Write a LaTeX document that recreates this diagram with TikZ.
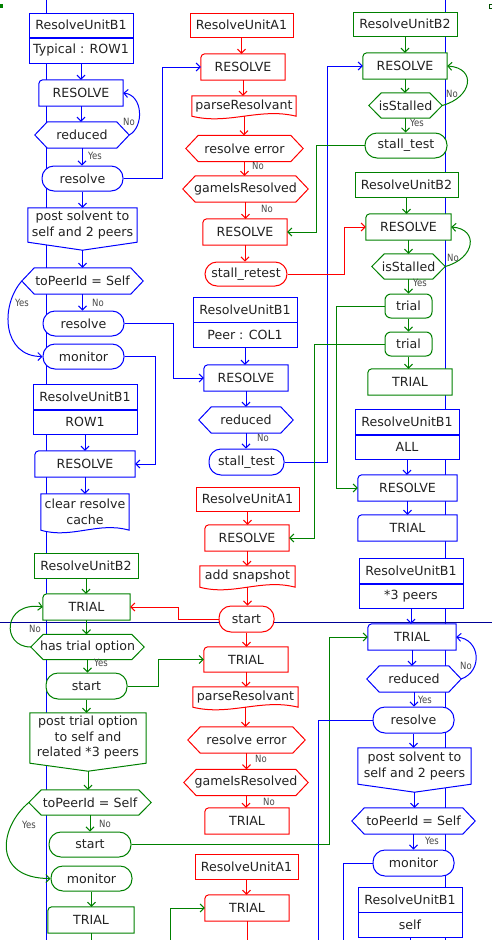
\documentclass[tikz,border=0pt]{standalone}
\usepackage{fontspec}
\setmainfont{DejaVu Sans}
\newfontfamily\lblfont[FakeStretch=0.85]{DejaVu Sans}
\usetikzlibrary{arrows.meta,calc}
\pgfdeclarelayer{bottom}
\pgfdeclarelayer{shapes}
\pgfsetlayers{bottom,shapes,main}

\definecolor{cB}{RGB}{0,0,255}
\definecolor{cG}{RGB}{0,128,0}
\definecolor{cR}{RGB}{255,0,0}
\definecolor{cNavy}{RGB}{0,0,150}
\definecolor{txt}{RGB}{34,34,34}
\definecolor{lbltxt}{RGB}{70,70,70}

\tikzset{
  base/.style={inner sep=0pt, font=\fontsize{12.6}{15.5}\selectfont, text=txt, align=center},
  sz/.style 2 args={minimum width=#1pt, minimum height=#2pt},
  hdr/.style={base, rectangle, draw=#1, fill=white, line width=1pt},
  stad/.style={base, rectangle, rounded corners=12pt, draw=#1, fill=white, line width=1pt},
  tbox/.style={base, rectangle, rounded corners=6pt, draw=#1, fill=white, line width=1pt},
  plain/.style={base},
  lbl/.style={inner sep=0pt, font=\lblfont\fontsize{10}{11}\selectfont, text=lbltxt},
  arr/.style={draw=#1, line width=1pt, -{Straight Barb[length=4pt,width=8pt]}},
  ln/.style={draw=#1, line width=1pt},
  outl/.style={draw=#1, fill=white, line width=1pt},
}

% outlines drawn behind a text node, from its anchors
\newcommand\HexOutline[2]{\filldraw[outl=#2] (#1.west) -- ($(#1.north west)+(12.5pt,0)$) -- ($(#1.north east)+(-12.5pt,0)$) -- (#1.east) -- ($(#1.south east)+(-12.5pt,0)$) -- ($(#1.south west)+(12.5pt,0)$) -- cycle;}
\newcommand\NotchOutline[2]{\filldraw[outl=#2] (#1.south west) -- ($(#1.north west)+(0,-4pt)$) to[out=90,in=180] ($(#1.north west)+(4pt,0)$) -- (#1.north east) -- (#1.south east) -- cycle;}
\newcommand\WaveOutline[2]{\filldraw[outl=#2] (#1.south west) -- (#1.north west) -- (#1.north east) -- (#1.south east) .. controls ($(#1.south west)!0.65!(#1.south east)+(0,9pt)$) and ($(#1.south west)!0.35!(#1.south east)+(0,-9pt)$) .. (#1.south west) -- cycle;}
\newcommand\PointOutline[2]{\filldraw[outl=#2] (#1.north west) -- (#1.north east) -- (#1.south east) -- ($(#1.south)+(0,-8pt)$) -- (#1.south west) -- cycle;
  \coordinate (#1-tip) at ($(#1.south)+(0,-8pt)$);}
\newcommand\DownArrow[3]{\draw[arr=#3] (#1.south) -- (#1.south |- #2.north);}

\begin{document}
\begin{tikzpicture}[x=1pt,y=-1pt]
\useasboundingbox (0,0) rectangle (492,940);

% lane lines
\coordinate (laneLtop) at (46.5,0);
\coordinate (laneLbot) at (46.5,940);
\coordinate (laneRtop) at (445,0);
\coordinate (laneRbot) at (445,940);
\coordinate (rowL) at (0,622);
\coordinate (rowR) at (492,622);
\coordinate (bot) at (0,940);
\begin{pgfonlayer}{bottom}
  \draw[ln=cB] (laneLtop) -- (laneLbot);
  \draw[ln=cB] (laneRtop) -- (laneRbot);
  \draw[ln=cNavy] (rowL) -- (rowR);
  \fill[cG] (0,4) rectangle (3,8);
  \draw[cG!60!black, line width=0.8pt] (489.5,4) rectangle (492,8);
\end{pgfonlayer}

% ---------- left column ----------
\node[hdr=cB, sz={104}{24}] (h1) at (81,25) {ResolveUnitB1};
\node[hdr=cB, sz={104}{25}] (h1s) at (81,50.5) {Typical : ROW1};
\node[plain, sz={84}{26}] (r1) at (81,93) {RESOLVE};
\node[plain, sz={94}{26}] (d1) at (82,135) {reduced};
\node[stad=cB, sz={81}{25}] (s1) at (82.5,178.5) {resolve};
\node[plain, sz={109}{34}] (p1) at (82.5,225) {post solvent to\\self and 2 peers};
\node[plain, sz={121}{26}] (q1) at (82.5,281) {toPeerId = Self};
\node[stad=cB, sz={81}{25}] (s2) at (83.5,323.5) {resolve};
\node[stad=cB, sz={81}{25}] (m1) at (83.5,356.5) {monitor};
\node[hdr=cB, sz={104}{25}] (h2) at (85,396.5) {ResolveUnitB1};
\node[hdr=cB, sz={104}{24}] (h2s) at (85,422) {ROW1};
\node[plain, sz={100}{26}] (r2) at (85,464) {RESOLVE};
\node[plain, sz={88}{36}] (c1) at (85,512) {clear resolve\\cache};
\node[hdr=cG, sz={104}{25}] (h3) at (86,565.5) {ResolveUnitB2};
\node[plain, sz={87}{26}] (t1) at (86.5,607) {TRIAL};
\node[plain, sz={113}{25}] (d2) at (87.5,647) {has trial option};
\node[stad=cG, sz={81}{26}] (s3) at (86.5,686) {start};
\node[plain, sz={116}{50}] (p2) at (88,738) {post trial option\\to self and\\related *3 peers};
\node[plain, sz={122}{25}] (q2) at (90,802.5) {toPeerId = Self};
\node[stad=cG, sz={82}{25}] (s4) at (90,844.5) {start};
\node[stad=cG, sz={81}{25}] (m2) at (91.5,878.5) {monitor};
\node[plain, sz={86}{26}] (t2) at (91,920) {TRIAL};

% ---------- middle column ----------
\node[hdr=cR, sz={103}{24}] (h4) at (241.5,25) {ResolveUnitA1};
\node[plain, sz={84}{26}] (r3) at (243,67) {RESOLVE};
\node[plain, sz={104}{20}] (w1) at (244,106) {parseResolvant};
\node[plain, sz={117}{26}] (d3) at (244.5,148.5) {resolve error};
\node[plain, sz={125}{26}] (d4) at (245.5,189) {gameIsResolved};
\node[plain, sz={84}{26}] (r4) at (245,232) {RESOLVE};
\node[stad=cR, sz={82}{24}] (s5) at (246,274) {stall\_retest};
\node[hdr=cB, sz={104}{25}] (h5) at (245,309.5) {ResolveUnitB1};
\node[hdr=cB, sz={104}{25}] (h5s) at (245,335) {Peer : COL1};
\node[plain, sz={84}{26}] (r5) at (246,378) {RESOLVE};
\node[plain, sz={94}{26}] (d5) at (246,420) {reduced};
\node[stad=cB, sz={75}{26}] (s6) at (246.5,462) {stall\_test};
\node[hdr=cR, sz={103}{24}] (h6) at (247.5,499) {ResolveUnitA1};
\node[plain, sz={84}{26}] (r6) at (247,538) {RESOLVE};
\node[plain, sz={95}{21}] (w2) at (247.5,576.5) {add snapshot};
\node[stad=cR, sz={55}{26}] (s7) at (246.5,619) {start};
\node[plain, sz={84}{25}] (t3) at (246,659.5) {TRIAL};
\node[plain, sz={105}{20}] (w3) at (245.5,697) {parseResolvant};
\node[plain, sz={117}{26}] (d6) at (246.5,740) {resolve error};
\node[plain, sz={124}{26}] (d7) at (246,782.5) {gameIsResolved};
\node[plain, sz={84}{26}] (t4) at (247,821) {TRIAL};
\node[hdr=cR, sz={103}{25}] (h7) at (246.5,866.5) {ResolveUnitA1};
\node[plain, sz={84}{26}] (t5) at (247,908) {TRIAL};

% ---------- right column ----------
\node[hdr=cG, sz={104}{24}] (h8) at (405,24) {ResolveUnitB2};
\node[plain, sz={84}{26}] (r7) at (405,66) {RESOLVE};
\node[plain, sz={73}{25}] (d8) at (405.5,105.5) {isStalled};
\node[stad=cG, sz={82}{25}] (s8) at (406,145.5) {stall\_test};
\node[hdr=cG, sz={103}{25}] (h9) at (406.5,184.5) {ResolveUnitB2};
\node[plain, sz={85}{26}] (r8) at (408.5,227) {RESOLVE};
\node[plain, sz={73}{25}] (d9) at (408.5,266.5) {isStalled};
\node[tbox=cG, sz={47}{24}] (u1) at (408.5,306) {trial};
\node[tbox=cG, sz={47}{24}] (u2) at (408.5,344) {trial};
\node[plain, sz={84}{26}] (t6) at (410,382) {TRIAL};
\node[hdr=cB, sz={104}{25}] (h10) at (407,421.5) {ResolveUnitB1};
\node[hdr=cB, sz={104}{24}] (h10s) at (407,447) {ALL};
\node[plain, sz={99}{26}] (r9) at (407.5,488) {RESOLVE};
\node[plain, sz={99}{26}] (t7) at (407.5,528) {TRIAL};
\node[hdr=cB, sz={104}{25}] (h11) at (411,570.5) {ResolveUnitB1};
\node[hdr=cB, sz={104}{24}] (h11s) at (411,596) {*3 peers};
\node[plain, sz={88}{26}] (t8) at (412,637) {TRIAL};
\node[plain, sz={94}{26}] (d10) at (414,679) {reduced};
\node[stad=cB, sz={81}{26}] (s9) at (413.5,720) {resolve};
\node[plain, sz={113}{36}] (p3) at (414.5,766) {post solvent to\\self and 2 peers};
\node[plain, sz={123}{26}] (q3) at (413.5,821) {toPeerId = Self};
\node[stad=cB, sz={81}{26}] (m3) at (413.5,863) {monitor};
\node[hdr=cB, sz={104}{25}] (h12) at (410,899.5) {ResolveUnitB1};
\node[hdr=cB, sz={104}{25}] (h12s) at (410,924.5) {self};

% ---------- outlines of the special shapes ----------
\begin{pgfonlayer}{shapes}
  \NotchOutline{r1}{cB} \NotchOutline{r2}{cB} \NotchOutline{r5}{cB}
  \NotchOutline{r9}{cB} \NotchOutline{t7}{cB} \NotchOutline{t8}{cB}
  \NotchOutline{r3}{cR} \NotchOutline{r4}{cR} \NotchOutline{r6}{cR}
  \NotchOutline{t3}{cR} \NotchOutline{t4}{cR} \NotchOutline{t5}{cR}
  \NotchOutline{t1}{cG} \NotchOutline{t2}{cG} \NotchOutline{r7}{cG}
  \NotchOutline{r8}{cG} \NotchOutline{t6}{cG}
  \HexOutline{d1}{cB} \HexOutline{q1}{cB} \HexOutline{d5}{cB}
  \HexOutline{d10}{cB} \HexOutline{q3}{cB}
  \HexOutline{d2}{cG} \HexOutline{q2}{cG} \HexOutline{d8}{cG} \HexOutline{d9}{cG}
  \HexOutline{d3}{cR} \HexOutline{d4}{cR} \HexOutline{d6}{cR} \HexOutline{d7}{cR}
  \WaveOutline{c1}{cB} \WaveOutline{w1}{cR} \WaveOutline{w2}{cR} \WaveOutline{w3}{cR}
  \PointOutline{p1}{cB} \PointOutline{p2}{cG} \PointOutline{p3}{cB}
\end{pgfonlayer}

% ---------- flow inside the columns ----------
\DownArrow{h1s}{r1}{cB} \DownArrow{r1}{d1}{cB} \DownArrow{d1}{s1}{cB}
\DownArrow{s1}{p1}{cB}
\draw[arr=cB] (p1-tip) -- (p1-tip |- q1.north);
\DownArrow{q1}{s2}{cB} \DownArrow{h2s}{r2}{cB} \DownArrow{r2}{c1}{cB}
\DownArrow{h3}{t1}{cG} \DownArrow{t1}{d2}{cG} \DownArrow{d2}{s3}{cG}
\DownArrow{s3}{p2}{cG}
\draw[arr=cG] (p2-tip) -- (p2-tip |- q2.north);
\DownArrow{q2}{s4}{cG} \DownArrow{m2}{t2}{cG}
\draw[ln=cG] (t2.south) -- (t2.south |- bot);

\DownArrow{h4}{r3}{cR} \DownArrow{r3}{w1}{cR} \DownArrow{w1}{d3}{cR}
\DownArrow{d3}{d4}{cR} \DownArrow{d4}{r4}{cR} \DownArrow{r4}{s5}{cR}
\DownArrow{h5s}{r5}{cB} \DownArrow{r5}{d5}{cB} \DownArrow{d5}{s6}{cB}
\DownArrow{h6}{r6}{cR} \DownArrow{r6}{w2}{cR} \DownArrow{w2}{s7}{cR}
\DownArrow{s7}{t3}{cR} \DownArrow{t3}{w3}{cR} \DownArrow{w3}{d6}{cR}
\DownArrow{d6}{d7}{cR} \DownArrow{d7}{t4}{cR} \DownArrow{h7}{t5}{cR}
\draw[ln=cR] (t5.south) -- (t5.south |- bot);

\DownArrow{h8}{r7}{cG} \DownArrow{r7}{d8}{cG} \DownArrow{d8}{s8}{cG}
\DownArrow{h9}{r8}{cG} \DownArrow{r8}{d9}{cG} \DownArrow{d9}{u1}{cG}
\DownArrow{u1}{u2}{cG} \DownArrow{u2}{t6}{cG}
\DownArrow{h10s}{r9}{cB} \DownArrow{r9}{t7}{cB} \DownArrow{h11s}{t8}{cB}
\DownArrow{t8}{d10}{cB} \DownArrow{d10}{s9}{cB} \DownArrow{s9}{p3}{cB}
\draw[arr=cB] (p3-tip) -- (p3-tip |- q3.north);
\DownArrow{q3}{m3}{cB}
\draw[ln=cB] (h12s.south) -- (h12s.south |- bot);

% ---------- loops back ----------
\draw[arr=cB] (d1.east) .. controls +(15pt,8pt) and +(20pt,-2pt) .. (r1.east);
\draw[arr=cG] (d8.east) .. controls +(30pt,8pt) and +(30pt,-2pt) .. (r7.east);
\draw[arr=cG] (d9.east) .. controls +(30pt,8pt) and +(28pt,-2pt) .. (r8.east);
\draw[arr=cB] (d10.east) .. controls +(22pt,8pt) and +(24pt,-2pt) .. (t8.east);
\draw[arr=cB] (q1.west) .. controls +(-22pt,-25pt) and +(-40pt,0pt) .. (m1.west);
\draw[arr=cG] (d2.west) .. controls +(-30pt,0pt) and +(-40pt,6pt) .. (t1.west);
\draw[arr=cG] (q2.west) .. controls +(-30pt,-25pt) and +(-58pt,0pt) .. (m2.west);

% ---------- links between columns ----------
\draw[arr=cB] (s1.east) -- ++(39pt,0) |- (r3.west);
\draw[arr=cB] (s2.east) -- ++(49pt,0) |- (r5.west);
\draw[arr=cB] (m1.east) -- ++(31pt,0) |- (r2.east);
\draw[arr=cB] (s6.east) -- ++(43pt,0) |- (r7.west);
\draw[arr=cG] (s8.west) -- ++(-48pt,0) |- (r4.east);
\draw[arr=cR] (s5.east) -- ++(57pt,0) |- (r8.west);
\draw[arr=cG] (u1.west) -- ++(-48pt,0) |- (r9.west);
\draw[arr=cG] (u2.west) -- ++(-70pt,0) |- (r6.east);
\draw[arr=cR] (s7.west) -- ++(-40pt,0) |- (t1.east);
\draw[arr=cG] (s3.east) -- ++(31pt,0) |- (t3.west);
\draw[arr=cG] (s4.east) -- ++(198pt,0) |- (t8.west);
\coordinate (g0) at (170,940);
\draw[arr=cG] (g0) |- (t5.west);
\coordinate (b1) at (318,940);
\coordinate (b2) at (343,940);
\draw[ln=cB] (s9.west) -| (b1);
\draw[ln=cB] (m3.west) -| (b2);

% ---------- branch labels ----------
\node[lbl] (l1) at (129,122) {No};
\node[lbl] (l2) at (95,156) {Yes};
\node[lbl] (l3) at (22,303) {Yes};
\node[lbl] (l4) at (98,303) {No};
\node[lbl] (l5) at (35,629) {No};
\node[lbl] (l6) at (101,663) {Yes};
\node[lbl] (l7) at (29,825) {Yes};
\node[lbl] (l8) at (105,824) {No};
\node[lbl] (l9) at (258,166) {No};
\node[lbl] (l10) at (267,209) {No};
\node[lbl] (l11) at (263,438) {No};
\node[lbl] (l12) at (261,759) {No};
\node[lbl] (l13) at (269,802) {No};
\node[lbl] (l14) at (452,94) {No};
\node[lbl] (l15) at (417,123) {Yes};
\node[lbl] (l16) at (453,258) {No};
\node[lbl] (l17) at (420,283) {Yes};
\node[lbl] (l18) at (466,666) {No};
\node[lbl] (l19) at (425,700) {Yes};
\node[lbl] (l20) at (432,841) {Yes};
\end{tikzpicture}
\end{document}
